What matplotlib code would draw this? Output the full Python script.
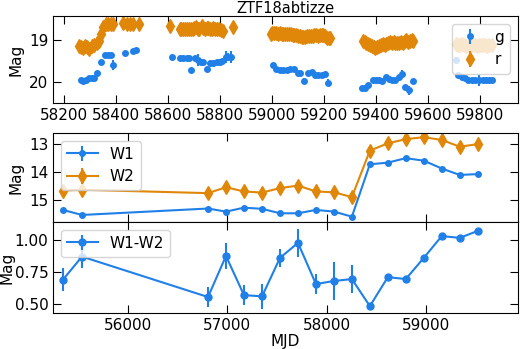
import matplotlib
matplotlib.use("Agg")
import matplotlib.pyplot as plt

BLUE, ORANGE = "#2080e8", "#e0870a"

plt.rcParams.update({"font.size": 11, "xtick.direction": "in", "ytick.direction": "in",
                     "xtick.top": True, "ytick.right": True,
                     "xtick.major.size": 6, "ytick.major.size": 6})

# ZTF g band
g_mjd = [58264, 58274, 58285, 58297, 58306, 58315, 58328, 58342, 58357, 58370, 58379, 58387,
         58434, 58464, 58477,
         58614, 58646, 58659, 58672, 58681, 58690, 58703, 58715, 58726, 58736, 58749, 58762,
         58774, 58787, 58800, 58809, 58822, 58831, 58844,
         59003, 59016, 59031, 59044, 59057, 59069, 59085, 59101, 59108, 59123, 59140, 59153,
         59165, 59178, 59191, 59204, 59217,
         59345, 59358, 59371, 59388, 59400, 59412, 59425, 59437, 59450, 59462, 59475, 59490,
         59499, 59512, 59528, 59544,
         59708, 59717, 59730, 59742, 59755, 59768, 59781, 59797, 59810, 59822, 59835, 59845]
g_mag = [19.96, 19.99, 19.95, 19.92, 19.92, 19.92, 19.78, 19.52, 19.36, 19.36, 19.36, 19.60,
         19.32, 19.26, 19.24,
         19.40, 19.44, 19.44, 19.44, 19.44, 19.72, 19.44, 19.48, 19.52, 19.52, 19.70, 19.54,
         19.54, 19.52, 19.52, 19.51, 19.40, 19.40, 19.40,
         19.60, 19.70, 19.72, 19.72, 19.72, 19.70, 19.70, 19.80, 19.80, 19.98, 19.80, 19.76,
         19.84, 19.84, 19.85, 19.82, 20.02,
         20.16, 20.14, 20.08, 19.96, 19.96, 19.95, 19.98, 19.88, 19.94, 19.97, 19.95, 19.88,
         19.82, 20.12, 20.21, 19.98,
         19.48, 19.84, 19.88, 19.92, 19.95, 19.95, 19.95, 19.97, 19.95, 19.96, 19.95, 19.95]
g_err = [0.03, 0.03, 0.03, 0.03, 0.03, 0.03, 0.04, 0.03, 0.03, 0.03, 0.03, 0.12,
         0.03, 0.04, 0.04,
         0.03, 0.03, 0.03, 0.03, 0.03, 0.04, 0.03, 0.15, 0.03, 0.03, 0.05, 0.03,
         0.03, 0.03, 0.06, 0.03, 0.14, 0.10, 0.14,
         0.03, 0.03, 0.03, 0.03, 0.03, 0.03, 0.03, 0.03, 0.03, 0.06, 0.03, 0.03,
         0.03, 0.03, 0.03, 0.04, 0.08,
         0.05, 0.05, 0.04, 0.03, 0.03, 0.03, 0.03, 0.03, 0.03, 0.03, 0.03, 0.03,
         0.10, 0.05, 0.10, 0.05,
         0.08, 0.03, 0.03, 0.03, 0.03, 0.03, 0.03, 0.14, 0.03, 0.03, 0.03, 0.03]

# ZTF r band
r_mjd = [58259, 58267, 58274, 58281, 58287, 58297, 58306, 58315, 58326, 58336, 58341, 58351,
         58362, 58370, 58379, 58390, 58428, 58441, 58454, 58464, 58490,
         58608, 58646, 58652, 58659, 58666, 58672, 58682, 58689, 58695, 58702, 58708, 58715,
         58721, 58730, 58736, 58742, 58749, 58755, 58762, 58768, 58775, 58781, 58790, 58796,
         58803, 58810, 58849,
         58995, 59002, 59009, 59016, 59023, 59030, 59037, 59044, 59051, 59058, 59065, 59072,
         59079, 59086, 59093, 59100, 59107, 59114, 59121, 59128, 59135, 59142, 59149, 59156,
         59163, 59170, 59177, 59184, 59191, 59198, 59205, 59212, 59219, 59225,
         59349, 59356, 59363, 59370, 59377, 59384, 59391, 59398, 59405, 59412, 59419, 59426,
         59433, 59440, 59447, 59454, 59461, 59468, 59475, 59482, 59489, 59496, 59503, 59510,
         59517, 59524, 59531, 59538, 59544,
         59708, 59716, 59724, 59732, 59740, 59748, 59756, 59764, 59772, 59780, 59788, 59796,
         59804, 59812, 59820, 59828, 59836, 59846]
r_mag = [19.14, 19.16, 19.18, 19.15, 19.16, 19.22, 19.14, 19.12, 19.08, 19.02, 18.86, 18.68,
         18.62, 18.60, 18.61, 18.60, 18.58, 18.60, 18.62, 18.62, 18.60,
         18.66, 18.72, 18.74, 18.74, 18.72, 18.72, 18.74, 18.72, 18.72, 18.70, 18.68, 18.72,
         18.72, 18.66, 18.70, 18.72, 18.70, 18.70, 18.72, 18.72, 18.70, 18.72, 18.72, 18.74,
         18.76, 18.78, 18.68,
         18.84, 18.82, 18.83, 18.82, 18.84, 18.83, 18.84, 18.85, 18.84, 18.86, 18.85, 18.86,
         18.87, 18.88, 18.88, 18.90, 18.91, 18.92, 18.93, 18.92, 18.91, 18.90, 18.90, 18.89,
         18.88, 18.88, 18.89, 18.88, 18.87, 18.88, 18.91, 18.94, 18.96, 18.95,
         19.02, 19.05, 19.08, 19.10, 19.12, 19.14, 19.16, 19.18, 19.16, 19.14, 19.12, 19.10,
         19.12, 19.10, 19.08, 19.05, 19.06, 19.04, 19.06, 19.08, 19.06, 19.04, 19.06, 19.02,
         19.00, 19.04, 19.02, 19.00, 19.02,
         19.10, 19.12, 19.12, 19.10, 19.12, 19.13, 19.12, 19.12, 19.11, 19.12, 19.13, 19.12,
         19.12, 19.11, 19.12, 19.13, 19.12, 19.12]
r_err = [0.05] * len(r_mag)

# WISE epochs
w_mjd = [55345, 55537, 56806, 56987, 57168, 57350, 57531, 57712, 57893, 58074, 58255,
         58436, 58617, 58798, 58979, 59160, 59341, 59522]
w1 = [15.36, 15.54, 15.31, 15.42, 15.28, 15.32, 15.48, 15.48, 15.36, 15.42, 15.60,
      13.73, 13.67, 13.51, 13.60, 13.88, 14.11, 14.08]
w2 = [14.67, 14.64, 14.76, 14.55, 14.70, 14.74, 14.58, 14.49, 14.70, 14.73, 14.90,
      13.24, 12.98, 12.83, 12.76, 12.86, 13.10, 13.01]
w1_err = [0.02] * len(w1)
w2_err = [0.03] * len(w2)
w12 = [0.69, 0.87, 0.555, 0.875, 0.57, 0.56, 0.86, 0.977, 0.656, 0.68, 0.695,
       0.484, 0.71, 0.695, 0.86, 1.03, 1.016, 1.07]
w12_err = [0.09, 0.09, 0.08, 0.10, 0.08, 0.095, 0.07, 0.11, 0.08, 0.15, 0.11,
           0.015, 0.02, 0.02, 0.02, 0.02, 0.02, 0.02]

fig = plt.figure(figsize=(5.2, 3.49), dpi=100)
ax1 = fig.add_axes([0.1025, 0.704, 0.8935, 0.25])
ax2 = fig.add_axes([0.1025, 0.364, 0.8935, 0.255])
ax3 = fig.add_axes([0.1025, 0.103, 0.8935, 0.261])

ax1.errorbar(g_mjd, g_mag, yerr=g_err, fmt="o", ms=4, color=BLUE, label="g")
ax1.errorbar(r_mjd, r_mag, yerr=r_err, fmt="d", ms=7, color=ORANGE, label="r")
ax1.set_xlim(58159, 59946)
ax1.set_ylim(20.52, 18.42)
ax1.set_yticks([19, 20])
ax1.set_ylabel("Mag", labelpad=4)
ax1.set_title("ZTF18abtizze", fontsize=10.5, pad=1)
ax1.legend(loc="upper right", handlelength=1.6)

ax2.errorbar(w_mjd, w1, yerr=w1_err, fmt="-o", ms=4, color=BLUE, label="W1")
ax2.errorbar(w_mjd, w2, yerr=w2_err, fmt="-d", ms=7.5, color=ORANGE, label="W2")
ax2.set_xlim(55248, 59927)
ax2.set_ylim(15.79, 12.61)
ax2.set_yticks([13, 14, 15])
ax2.set_xticks([56000, 57000, 58000, 59000])
ax2.set_xticklabels([])
ax2.set_ylabel("Mag", labelpad=4)
ax2.legend(loc="upper left")

ax3.errorbar(w_mjd, w12, yerr=w12_err, fmt="-o", ms=5, color=BLUE, label="W1-W2")
ax3.set_xlim(55248, 59927)
ax3.set_ylim(0.43, 1.14)
ax3.set_yticks([0.5, 0.75, 1.0])
ax3.set_xticks([56000, 57000, 58000, 59000])
ax3.set_xlabel("MJD", labelpad=1)
ax3.set_ylabel("Mag", labelpad=0)
ax3.legend(loc="upper left")

fig.savefig("out.png", dpi=100)
